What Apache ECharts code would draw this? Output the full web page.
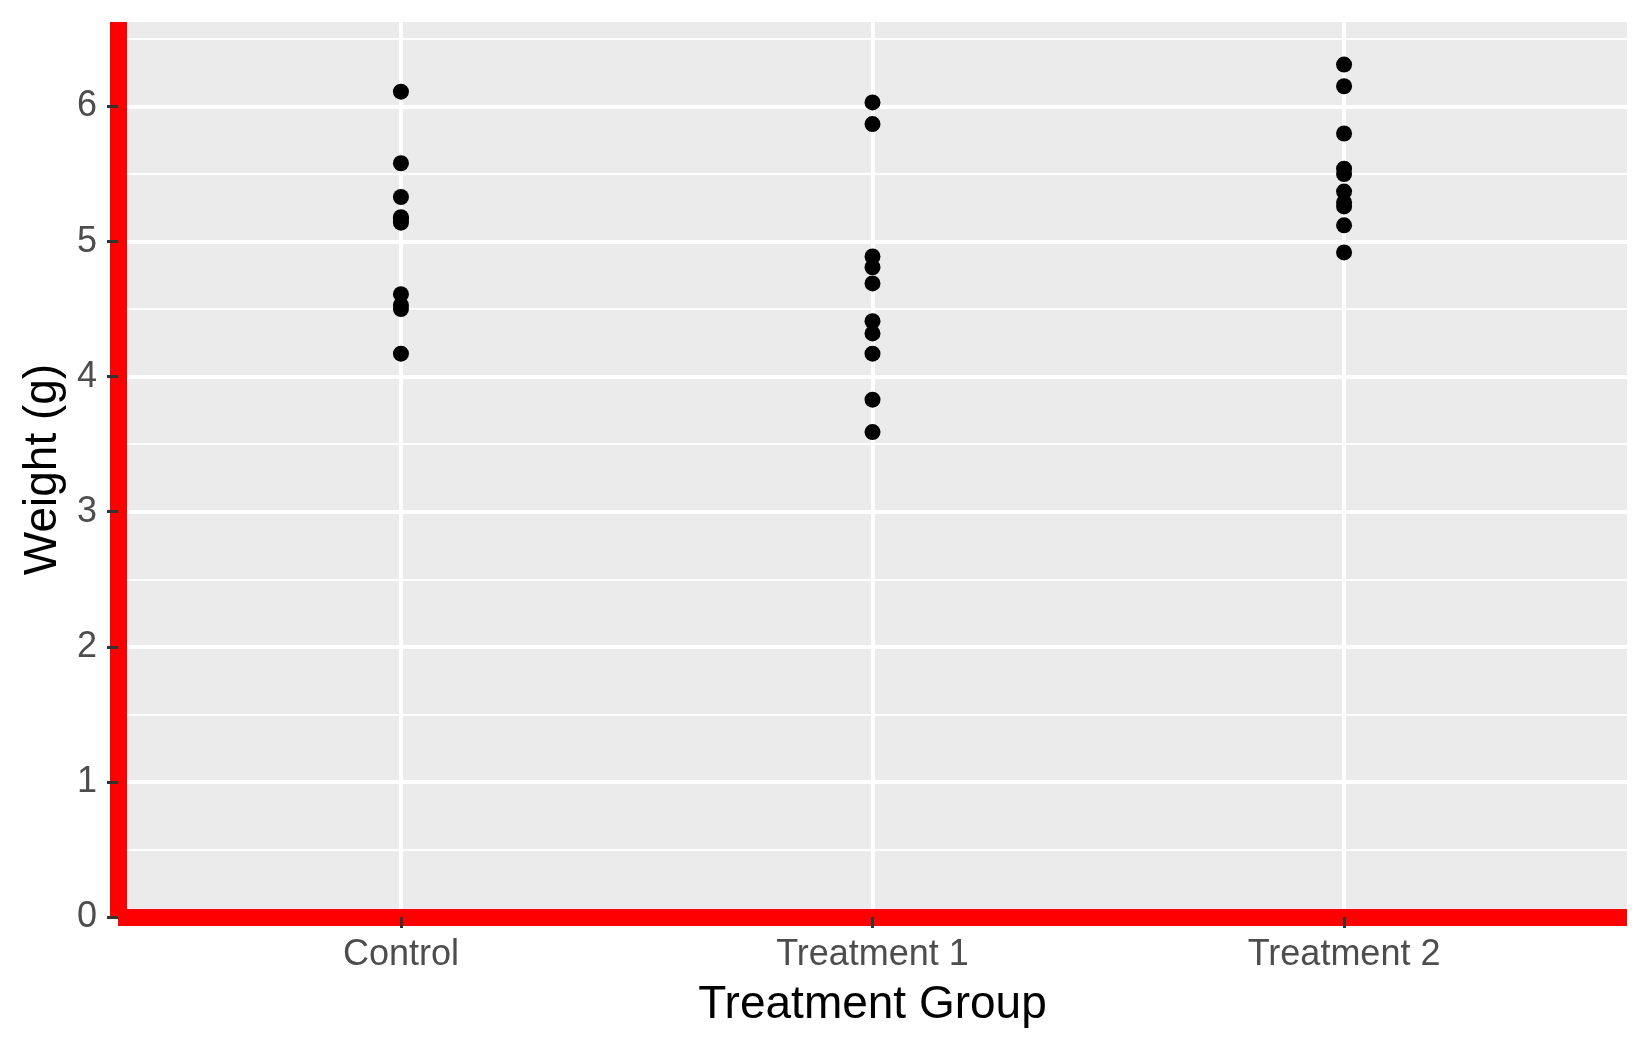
<!DOCTYPE html>
<html>
<head>
<meta charset="utf-8">
<script src="https://cdn.jsdelivr.net/npm/echarts@6/dist/echarts.min.js"></script>
<style>
html,body{margin:0;padding:0;background:#fff;}
#chart{width:1650px;height:1050px;}
</style>
</head>
<body>
<div id="chart"></div>
<script>
const categories = ['Control', 'Treatment 1', 'Treatment 2'];
const ctrlWeights = [4.17, 5.58, 5.18, 6.11, 4.50, 4.61, 5.17, 4.53, 5.33, 5.14];
const trt1Weights = [4.81, 4.17, 4.41, 3.59, 5.87, 3.83, 6.03, 4.89, 4.32, 4.69];
const trt2Weights = [6.31, 5.12, 5.54, 5.50, 5.37, 5.29, 4.92, 6.15, 5.80, 5.26];
const yTicks = [0, 1, 2, 3, 4, 5, 6];
const xTicks = [1, 2, 3];

const groups = [ctrlWeights, trt1Weights, trt2Weights];
const points = [];
groups.forEach((arr, gi) => arr.forEach(v => points.push([gi + 1, v])));

const yMax = 6.31 + 0.05 * 6.31;
const font = '"Liberation Sans", Arial, sans-serif';

const chart = echarts.init(document.getElementById('chart'), null, {renderer: 'canvas'});
chart.setOption({
  animation: false,
  backgroundColor: '#ffffff',
  grid: {
    left: 118, right: 23, top: 22, bottom: 133,
    show: true, backgroundColor: '#EBEBEB', borderWidth: 0
  },
  xAxis: [{
    type: 'value',
    min: 0.4, max: 3.6,
    splitNumber: 3,
    name: 'Treatment Group',
    nameLocation: 'middle',
    nameGap: 65,
    nameTextStyle: {fontFamily: font, fontSize: 46, color: '#000000'},
    axisLine: {show: true, onZero: false, lineStyle: {color: '#FF0000', width: 17, cap: 'butt'}},
    axisTick: {show: true, customValues: xTicks, length: 11, lineStyle: {color: '#333333', width: 3}},
    axisLabel: {
      show: true, customValues: xTicks, margin: 20,
      fontFamily: font, fontSize: 36, color: '#4D4D4D',
      formatter: v => categories[Math.round(v) - 1] || ''
    },
    splitLine: {show: true, lineStyle: {color: '#FFFFFF', width: 4}}
  }],
  yAxis: [{
    type: 'value',
    min: 0, max: yMax, interval: 1,
    name: 'Weight (g)',
    nameLocation: 'middle',
    nameGap: 52,
    nameRotate: 90,
    nameTextStyle: {fontFamily: font, fontSize: 46, color: '#000000'},
    axisLine: {show: true, onZero: false, lineStyle: {color: '#FF0000', width: 17, cap: 'butt'}},
    axisTick: {show: true, customValues: yTicks, length: 11, lineStyle: {color: '#333333', width: 3}},
    axisLabel: {
      show: true, customValues: yTicks, margin: 21,
      fontFamily: font, fontSize: 36, color: '#4D4D4D'
    },
    splitLine: {show: true, showMinLine: false, lineStyle: {color: '#FFFFFF', width: 4}}
  }, {
    type: 'value',
    position: 'left',
    min: 0, max: yMax, interval: 0.5,
    axisLine: {show: false},
    axisTick: {show: false},
    axisLabel: {show: false},
    splitLine: {show: true, showMinLine: false, showMaxLine: false, lineStyle: {color: '#FFFFFF', width: 2}}
  }],
  series: [{
    type: 'scatter',
    xAxisIndex: 0, yAxisIndex: 0,
    data: points,
    symbol: 'circle',
    symbolSize: 16,
    itemStyle: {color: '#000000', opacity: 1},
    z: 2
  }]
});
</script>
</body>
</html>
